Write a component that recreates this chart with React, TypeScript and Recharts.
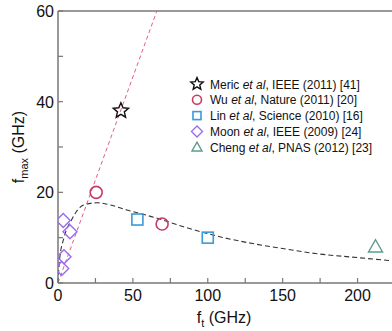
import React from 'react';
import { ComposedChart, XAxis, YAxis, Scatter, Line, ReferenceLine } from 'recharts';

// device results, f_t vs f_max (GHz)
const meric = [{ x: 42, y: 38 }];
const wu = [{ x: 25.5, y: 20 }, { x: 69.5, y: 13 }];
const lin = [{ x: 53, y: 14 }, { x: 100, y: 10 }];
const moon = [{ x: 3.5, y: 13.8 }, { x: 8, y: 11.3 }, { x: 4, y: 5.8 }, { x: 2.5, y: 3.2 }];
const cheng = [{ x: 212, y: 8 }];

// guide lines
const ratioLine = [{ x: 0, y: 0 }, { x: 66, y: 60 }];
const trendCurve = [
  { x: 0, y: 0 }, { x: 1, y: 5 }, { x: 4, y: 10 }, { x: 9, y: 13.9 }, { x: 17, y: 17.2 },
  { x: 26, y: 17.7 }, { x: 35, y: 17.2 }, { x: 46, y: 16.1 }, { x: 64, y: 14.5 },
  { x: 86, y: 12.2 }, { x: 108, y: 10.2 }, { x: 130, y: 8.7 }, { x: 150, y: 7.6 },
  { x: 172, y: 6.5 }, { x: 200, y: 5.6 }, { x: 223, y: 4.9 },
];

const xTicks = [0, 25, 50, 75, 100, 125, 150, 175, 200];
const yTicks = [0, 10, 20, 30, 40, 50, 60];

const FONT = '"Liberation Sans", Arial, sans-serif';
const AXIS = '#777';

const C_WU = '#c83c64';
const C_LIN = '#3a9ad5';
const C_MOON = '#9b6bf0';
const C_CHENG = '#5f9a8e';

const Star = ({ cx, cy, r = 8 }: any) => {
  const pts = [];
  for (let i = 0; i < 10; i++) {
    const rad = i % 2 === 0 ? r : r * 0.45;
    const a = -Math.PI / 2 + (i * Math.PI) / 5;
    pts.push(`${cx + rad * Math.cos(a)},${cy + rad * Math.sin(a)}`);
  }
  return <polygon points={pts.join(' ')} fill="none" stroke="#111" strokeWidth={1.4} strokeLinejoin="miter" />;
};
const Ring = ({ cx, cy, r = 6 }: any) => <circle cx={cx} cy={cy} r={r} fill="none" stroke={C_WU} strokeWidth={1.6} />;
const Box = ({ cx, cy, r = 5.5 }: any) => (
  <rect x={cx - r} y={cy - r} width={2 * r} height={2 * r} fill="none" stroke={C_LIN} strokeWidth={1.6} />
);
const Diamond = ({ cx, cy, r = 7 }: any) => (
  <polygon points={`${cx},${cy - r} ${cx + r},${cy} ${cx},${cy + r} ${cx - r},${cy}`} fill="none" stroke={C_MOON} strokeWidth={1.4} />
);
const Tri = ({ cx, cy, r = 7 }: any) => (
  <polygon points={`${cx},${cy - r} ${cx + r},${cy + r * 0.75} ${cx - r},${cy + r * 0.75}`} fill="none" stroke={C_CHENG} strokeWidth={1.4} />
);

const XTick = ({ x, y, payload }: any) => {
  const v = payload.value;
  return (
    <g>
      <line x1={x} y1={y} x2={x} y2={y - 5} stroke={AXIS} strokeWidth={1.2} />
      {v % 50 === 0 && (
        <text x={x} y={y + 18} textAnchor="middle" fontSize={16} fill="#111" fontFamily={FONT}>{v}</text>
      )}
    </g>
  );
};

const YTick = ({ x, y, payload }: any) => {
  const v = payload.value;
  return (
    <g>
      <line x1={x} y1={y} x2={x + 5} y2={y} stroke={AXIS} strokeWidth={1.2} />
      {v % 20 === 0 && (
        <text x={x - 4} y={y + 6} textAnchor="end" fontSize={16} fill="#111" fontFamily={FONT}>{v}</text>
      )}
    </g>
  );
};

const legendRows = [
  { Icon: Star, r: 6.5, name: 'Meric', rest: ', IEEE (2011) [41]' },
  { Icon: Ring, r: 4.5, name: 'Wu', rest: ', Nature (2011) [20]' },
  { Icon: Box, r: 4, name: 'Lin', rest: ', Science (2010) [16]' },
  { Icon: Diamond, r: 5.5, name: 'Moon', rest: ', IEEE (2009) [24]' },
  { Icon: Tri, r: 5, name: 'Cheng', rest: ', PNAS (2012) [23]' },
];

export default function App() {
  return (
    <div style={{ position: 'absolute', left: 0, top: 0, width: 392, height: 331, background: '#fff' }}>
      <ComposedChart width={392} height={331} margin={{ top: 11, right: 0, left: 0, bottom: 0 }}>
        <XAxis
          type="number"
          dataKey="x"
          domain={[0, 223]}
          ticks={xTicks}
          interval={0}
          height={48}
          stroke={AXIS}
          strokeWidth={1.5}
          tickLine={false}
          tickSize={0}
          tickMargin={0}
          tick={<XTick />}
          allowDataOverflow
        />
        <YAxis
          type="number"
          dataKey="y"
          domain={[0, 60]}
          ticks={yTicks}
          interval={0}
          width={58}
          stroke={AXIS}
          strokeWidth={1.5}
          tickLine={false}
          tickSize={0}
          tickMargin={0}
          tick={<YTick />}
          allowDataOverflow
        />
        <ReferenceLine y={60} stroke={AXIS} strokeWidth={1.5} />
        <Line data={ratioLine} dataKey="y" stroke="#e0607f" strokeWidth={1} strokeDasharray="4 3" dot={false} isAnimationActive={false} />
        <Line data={trendCurve} dataKey="y" type="monotone" stroke="#333" strokeWidth={1.1} strokeDasharray="5 3" dot={false} isAnimationActive={false} />
        <Scatter data={moon} shape={(p: any) => <Diamond cx={p.cx} cy={p.cy} />} isAnimationActive={false} />
        <Scatter data={wu} shape={(p: any) => <Ring cx={p.cx} cy={p.cy} />} isAnimationActive={false} />
        <Scatter data={lin} shape={(p: any) => <Box cx={p.cx} cy={p.cy} />} isAnimationActive={false} />
        <Scatter data={cheng} shape={(p: any) => <Tri cx={p.cx} cy={p.cy} />} isAnimationActive={false} />
        <Scatter data={meric} shape={(p: any) => <Star cx={p.cx} cy={p.cy} />} isAnimationActive={false} />
      </ComposedChart>
      <svg width={392} height={331} style={{ position: 'absolute', left: 0, top: 0, pointerEvents: 'none' }} fontFamily={FONT}>
        <text transform="translate(24,147) rotate(-90)" textAnchor="middle" fontSize={16} fill="#111">
          <tspan>f</tspan>
          <tspan fontSize={11} dy={4}>max</tspan>
          <tspan dy={-4}> (GHz)</tspan>
        </text>
        <text x={224} y={323} textAnchor="middle" fontSize={16} fill="#111">
          <tspan>f</tspan>
          <tspan fontSize={11} dy={4}>t</tspan>
          <tspan dy={-4}> (GHz)</tspan>
        </text>
        {legendRows.map((row, i) => {
          const cy = 84 + i * 15.8;
          const { Icon } = row;
          return (
            <g key={row.name}>
              <Icon cx={197} cy={cy} r={row.r} />
              <text x={210} y={cy + 4.5} fontSize={12} fill="#111">
                {row.name} <tspan fontStyle="italic">et al</tspan>{row.rest}
              </text>
            </g>
          );
        })}
      </svg>
    </div>
  );
}
